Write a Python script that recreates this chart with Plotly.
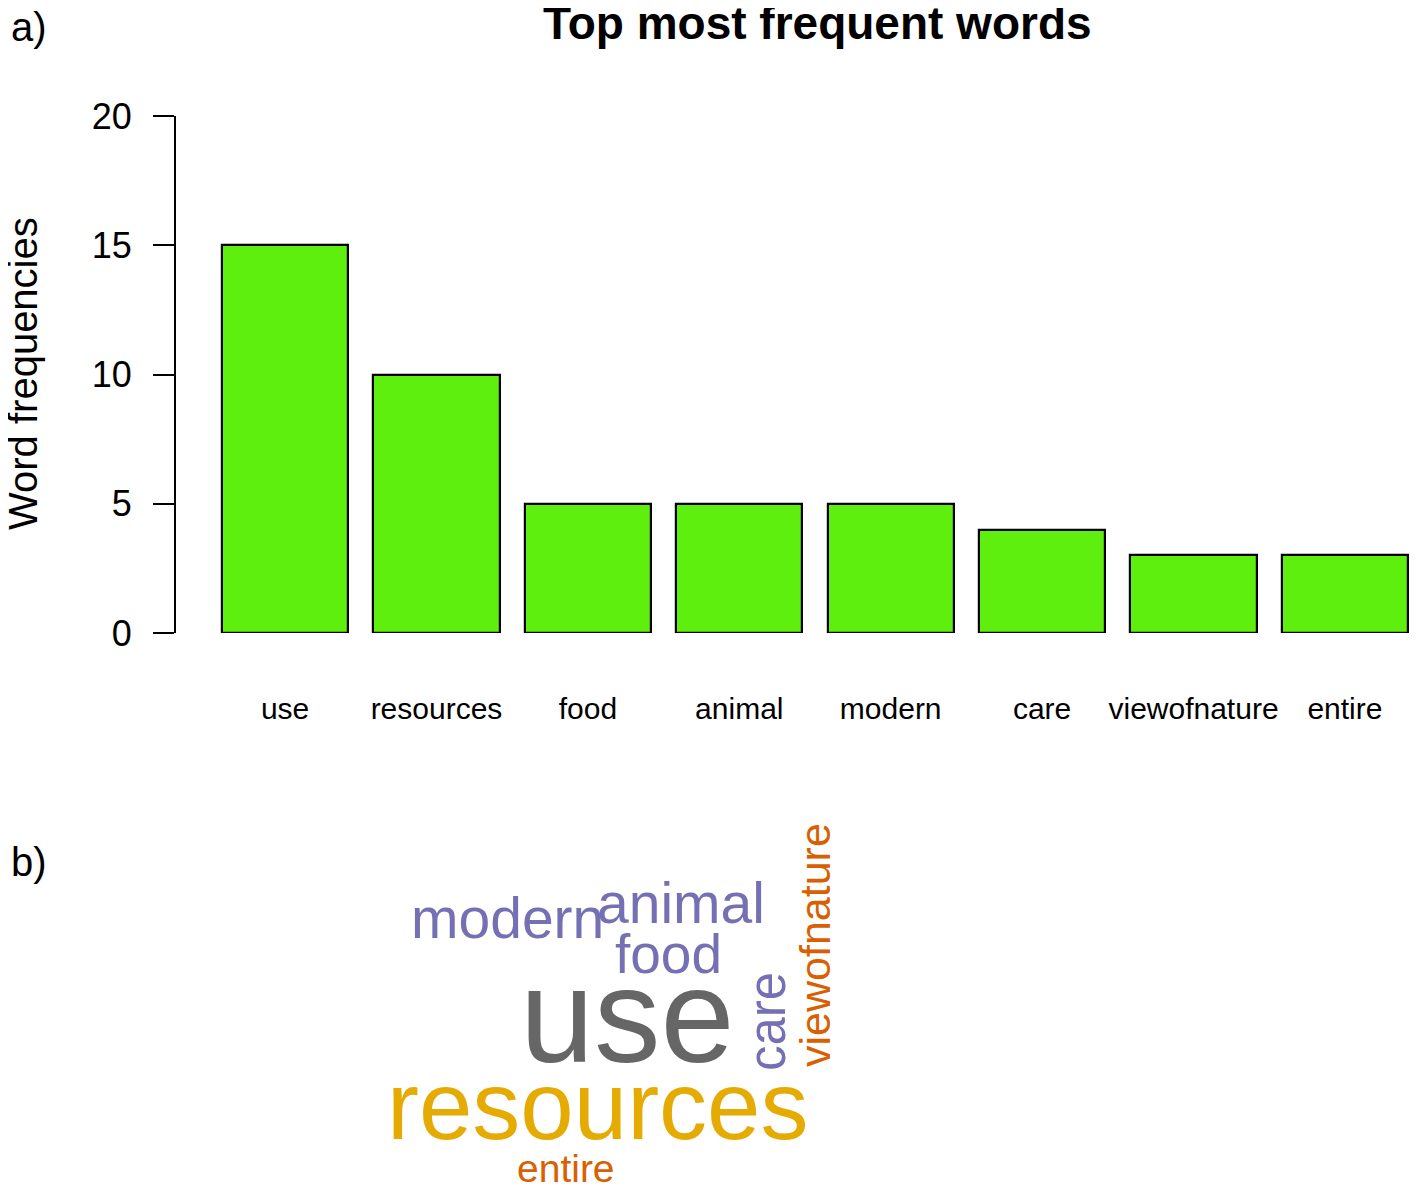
import plotly.graph_objects as go

# ---------------- data ----------------
words = ["use", "resources", "food", "animal", "modern", "care", "viewofnature", "entire"]
freqs = [15, 10, 5, 5, 5, 4, 3, 3]
y_ticks = [0, 5, 10, 15, 20]

# word-cloud layout (pixel centres, font sizes, angles, colours) – styling only
cloud_words = ["use", "resources", "modern", "animal", "food", "care", "viewofnature", "entire"]
cloud_px = [627, 598, 507, 681, 668, 767, 815, 566]
cloud_py = [1016, 1105, 918, 903, 954, 1022, 945, 1168]
cloud_size = [133, 96, 57, 57, 55, 51, 43, 39]
cloud_angle = [0, 0, 0, 0, 0, -90, -90, 0]
cloud_color = ["#666666", "#E6AB02", "#7570B3", "#7570B3", "#7570B3", "#7570B3", "#D95F02", "#D95F02"]

OFF = 8  # page body margin
W, H = 1417 - 2 * OFF, 1190 - 2 * OFF
FONT = "Liberation Sans, Arial, Helvetica, sans-serif"

def px(x):
    return (x - OFF) / W

def py(y):
    return 1 - (y - OFF) / H

# bar geometry (pixels in the reference)
first_left, last_right, axis_x = 222, 1408, 176
step = (last_right - first_left) / (len(words) - 1 + 0.8333)
bar_w = 0.8333
c0 = first_left + bar_w / 2 * step
x_right_px = OFF + W

fig = go.Figure()
fig.add_trace(go.Bar(
    x=list(range(len(words))), y=freqs, width=bar_w,
    marker=dict(color="#5FEF0F", line=dict(color="black", width=2.2)),
    cliponaxis=False, showlegend=False,
))

annotations = []
annotations.append(dict(text="<b>Top most frequent words</b>", x=px(817), y=py(23), xref="paper", yref="paper",
                        showarrow=False, xanchor="center", yanchor="middle",
                        font=dict(size=46, color="black", family=FONT)))
annotations.append(dict(text="a)", x=px(9), y=py(27), xref="paper", yref="paper", showarrow=False,
                        xanchor="left", yanchor="middle", font=dict(size=40, color="black", family=FONT)))
annotations.append(dict(text="b)", x=px(9), y=py(862), xref="paper", yref="paper", showarrow=False,
                        xanchor="left", yanchor="middle", font=dict(size=40, color="black", family=FONT)))
annotations.append(dict(text="Word frequencies", x=px(23), y=py(374), xref="paper", yref="paper",
                        showarrow=False, textangle=-90, xanchor="center", yanchor="middle",
                        font=dict(size=40, color="black", family=FONT)))
for w, x, y, s, a, c in zip(cloud_words, cloud_px, cloud_py, cloud_size, cloud_angle, cloud_color):
    annotations.append(dict(text=w, x=px(x), y=py(y), xref="paper", yref="paper", showarrow=False,
                            textangle=a, xanchor="center", yanchor="middle",
                            font=dict(size=s, color=c, family=FONT)))

fig.update_layout(
    width=W, height=H,
    margin=dict(l=0, r=0, t=0, b=0, autoexpand=False),
    plot_bgcolor="white", paper_bgcolor="white",
    font=dict(family=FONT, color="black"),
    xaxis=dict(domain=[px(axis_x), 1.0], range=[(axis_x - c0) / step, (x_right_px - c0) / step],
               tickmode="array", tickvals=list(range(len(words))), ticktext=words,
               showline=False, showgrid=False, zeroline=False, ticks="", automargin=False,
               tickfont=dict(size=30, family=FONT, color="black"), ticklabelstandoff=55),
    yaxis=dict(domain=[py(633), py(116)], range=[0, 20], tickvals=y_ticks,
               showline=True, linecolor="black", linewidth=2, showgrid=False, zeroline=False,
               ticks="outside", ticklen=21, tickwidth=2, tickcolor="black", automargin=False,
               tickfont=dict(size=36, family=FONT, color="black"), ticklabelstandoff=14),
    annotations=annotations,
    bargap=0,
)

fig.write_html("out.html")
